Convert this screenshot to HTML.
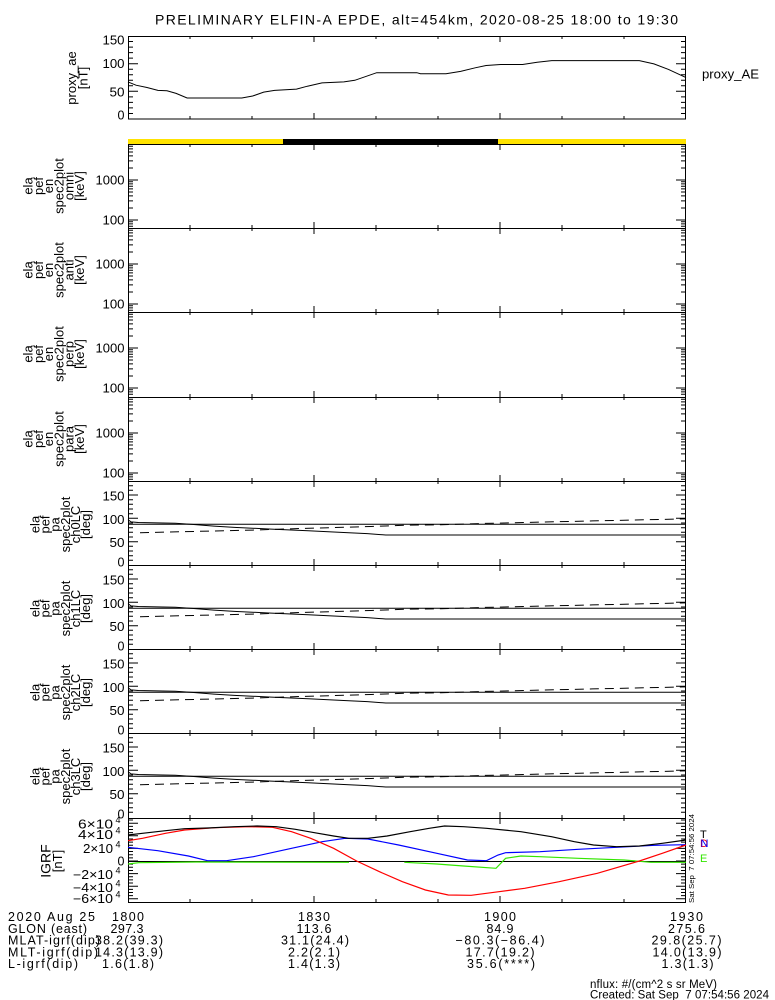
<!DOCTYPE html>
<html><head><meta charset="utf-8"><style>
html,body{margin:0;padding:0;background:#fff;}
svg{display:block;}
text{font-family:"Liberation Sans",sans-serif;fill:#000;}
</style></head><body>
<svg width="775" height="1000" viewBox="0 0 775 1000" xmlns="http://www.w3.org/2000/svg">
<defs>
<path id="xt" d="M190 0v3M252 0v3M314 0v6M376 0v3M438 0v3M500 0v6M562 0v3M624 0v3" stroke="#000" stroke-width="1" fill="none"/>
<path id="xb" d="M190 0v-3M252 0v-3M314 0v-6M376 0v-3M438 0v-3M500 0v-6M562 0v-3M624 0v-3" stroke="#000" stroke-width="1" fill="none"/>
<path id="ys" stroke="#000" stroke-width="1" fill="none" d="M128 82.2h5M128 79.9h5M128 77.8h5M128 76h10M128 64h5M128 56.9h5M128 51.9h5M128 48h5M128 44.9h5M128 42.2h5M128 39.9h5M128 37.8h5M128 36h10M128 24h5M128 16.9h5M128 11.9h5M128 8h5M128 4.9h5M128 2.2h5
M686 82.2h-5M686 79.9h-5M686 77.8h-5M686 76h-10M686 64h-5M686 56.9h-5M686 51.9h-5M686 48h-5M686 44.9h-5M686 42.2h-5M686 39.9h-5M686 37.8h-5M686 36h-10M686 24h-5M686 16.9h-5M686 11.9h-5M686 8h-5M686 4.9h-5M686 2.2h-5"/>
<path id="ya" stroke="#000" stroke-width="1" fill="none" d="M128 79.3h5M128 74.7h5M128 70h5M128 65.3h5M128 60.7h10M128 56h5M128 51.3h5M128 46.7h5M128 42h5M128 37.3h10M128 32.7h5M128 28h5M128 23.3h5M128 18.7h5M128 14h10M128 9.3h5M128 4.7h5
M686 79.3h-5M686 74.7h-5M686 70h-5M686 65.3h-5M686 60.7h-10M686 56h-5M686 51.3h-5M686 46.7h-5M686 42h-5M686 37.3h-10M686 32.7h-5M686 28h-5M686 23.3h-5M686 18.7h-5M686 14h-10M686 9.3h-5M686 4.7h-5"/>
<g id="ang">
<path d="M128 43.2H686" stroke="#000" stroke-width="1" fill="none"/>
<polyline points="128,38.6 131,40.9 138.3,41.5 175.3,42.2 193.7,43.5 214,45.1 234.4,46.4 271.3,48.1 308.2,49.7 348.8,51.7 367.3,52.6 385.8,54 686,54" stroke="#000" stroke-width="1" fill="none"/>
<polyline points="140,51.7 182.7,50.7 252.8,49.1 293.4,47.7 371,45.5 407.9,44.1 441.1,43.8 481.8,42.5 592.5,39.9 686,37.9" stroke="#000" stroke-width="1" fill="none" stroke-dasharray="9,6"/>
</g>
</defs>

<!-- Title -->
<text x="155" y="24.5" font-size="14" textLength="523" lengthAdjust="spacing">PRELIMINARY ELFIN-A EPDE, alt=454km, 2020-08-25 18:00 to 19:30</text>

<!-- proxy_ae panel -->
<rect x="128.5" y="36.5" width="557" height="82.5" fill="none" stroke="#000" stroke-width="1" shape-rendering="crispEdges"/>
<path stroke="#000" stroke-width="1" fill="none" d="M128 113.5h5M128 107.9h5M128 102.4h5M128 96.9h5M128 91.3h10M128 85.8h5M128 80.3h5M128 74.7h5M128 69.2h5M128 63.7h10M128 58.1h5M128 52.6h5M128 47.1h5M128 41.5h5
M686 113.5h-5M686 107.9h-5M686 102.4h-5M686 96.9h-5M686 91.3h-10M686 85.8h-5M686 80.3h-5M686 74.7h-5M686 69.2h-5M686 63.7h-10M686 58.1h-5M686 52.6h-5M686 47.1h-5M686 41.5h-5"/>
<use href="#xt" y="36"/><use href="#xb" y="119"/>
<polyline points="128,81.9 136,85.2 147,87.5 157.9,90.4 167,90.8 176.1,93.4 187.1,98 241.8,98 252.7,96 263.7,92.1 274.6,90.4 296.5,89.1 307.4,86.2 322,82.9 343.9,81.9 354.8,80.3 376.7,72.7 416.8,72.7 420.5,73.7 446,73.7 460.6,71.4 475.2,67.8 486.1,65.5 500.7,64.5 522.6,64.5 537.2,62.2 551.8,60.6 639.3,60.6 653.9,63.9 668.5,69.4 686,77.6" stroke="#000" stroke-width="1" fill="none"/>
<g font-size="12.5" text-anchor="end">
<text x="124.5" y="44.5" textLength="22" lengthAdjust="spacingAndGlyphs">150</text>
<text x="124.5" y="68" textLength="22" lengthAdjust="spacingAndGlyphs">100</text>
<text x="124.5" y="96.5" textLength="15" lengthAdjust="spacingAndGlyphs">50</text>
<text x="124.5" y="119.5">0</text>
</g>
<text font-size="13" text-anchor="middle" transform="translate(76,78) rotate(-90)">proxy_ae</text>
<text font-size="13" text-anchor="middle" transform="translate(87.5,78) rotate(-90)">[nT]</text>
<text x="702" y="78.5" font-size="13" textLength="57" lengthAdjust="spacingAndGlyphs">proxy_AE</text>

<!-- day/night bar -->
<rect x="128" y="139" width="155" height="5.5" fill="#ffe300"/>
<rect x="283" y="139" width="215" height="5.5" fill="#000"/>
<rect x="498" y="139" width="188" height="5.5" fill="#ffe300"/>

<!-- panel frames -->
<g fill="none" stroke="#000" stroke-width="1" shape-rendering="crispEdges">
<path d="M128.5 144V902M685.5 144V902"/>
<path d="M128 144.5H686M128 228.5H686M128 312.5H686M128 397.5H686M128 481.5H686M128 565.5H686M128 649.5H686M128 733.5H686M128 818.5H686M128 902.5H686"/>
</g>

<!-- x ticks -->
<use href="#xt" y="144"/><use href="#xb" y="228"/><use href="#xt" y="228"/><use href="#xb" y="312"/>
<use href="#xt" y="312"/><use href="#xb" y="397"/><use href="#xt" y="397"/><use href="#xb" y="481"/>
<use href="#xt" y="481"/><use href="#xb" y="565"/><use href="#xt" y="565"/><use href="#xb" y="649"/>
<use href="#xt" y="649"/><use href="#xb" y="733"/><use href="#xt" y="733"/><use href="#xb" y="818"/>
<use href="#xt" y="818"/><use href="#xb" y="902"/>

<!-- spec panels -->
<use href="#ys" y="144"/><use href="#ys" y="228"/><use href="#ys" y="312"/><use href="#ys" y="397"/>
<g font-size="12.5" text-anchor="end">
<text x="124.5" y="184.5" textLength="29" lengthAdjust="spacingAndGlyphs">1000</text>
<text x="124.5" y="224.5" textLength="22" lengthAdjust="spacingAndGlyphs">100</text>
<text x="124.5" y="268.5" textLength="29" lengthAdjust="spacingAndGlyphs">1000</text>
<text x="124.5" y="308.5" textLength="22" lengthAdjust="spacingAndGlyphs">100</text>
<text x="124.5" y="352.5" textLength="29" lengthAdjust="spacingAndGlyphs">1000</text>
<text x="124.5" y="392.5" textLength="22" lengthAdjust="spacingAndGlyphs">100</text>
<text x="124.5" y="437.5" textLength="29" lengthAdjust="spacingAndGlyphs">1000</text>
<text x="124.5" y="477.5" textLength="22" lengthAdjust="spacingAndGlyphs">100</text>
</g>
<g font-size="13" text-anchor="middle">
<g transform="translate(0,186)">
<text transform="translate(32.5,0) rotate(-90)">ela</text>
<text transform="translate(42.8,0) rotate(-90)">pef</text>
<text transform="translate(53.1,0) rotate(-90)">en</text>
<text transform="translate(63.4,0) rotate(-90)">spec2plot</text>
<text transform="translate(73.7,0) rotate(-90)">omni</text>
<text transform="translate(84,0) rotate(-90)">[keV]</text>
</g>
<g transform="translate(0,270)">
<text transform="translate(32.5,0) rotate(-90)">ela</text>
<text transform="translate(42.8,0) rotate(-90)">pef</text>
<text transform="translate(53.1,0) rotate(-90)">en</text>
<text transform="translate(63.4,0) rotate(-90)">spec2plot</text>
<text transform="translate(73.7,0) rotate(-90)">anti</text>
<text transform="translate(84,0) rotate(-90)">[keV]</text>
</g>
<g transform="translate(0,354)">
<text transform="translate(32.5,0) rotate(-90)">ela</text>
<text transform="translate(42.8,0) rotate(-90)">pef</text>
<text transform="translate(53.1,0) rotate(-90)">en</text>
<text transform="translate(63.4,0) rotate(-90)">spec2plot</text>
<text transform="translate(73.7,0) rotate(-90)">perp</text>
<text transform="translate(84,0) rotate(-90)">[keV]</text>
</g>
<g transform="translate(0,439)">
<text transform="translate(32.5,0) rotate(-90)">ela</text>
<text transform="translate(42.8,0) rotate(-90)">pef</text>
<text transform="translate(53.1,0) rotate(-90)">en</text>
<text transform="translate(63.4,0) rotate(-90)">spec2plot</text>
<text transform="translate(73.7,0) rotate(-90)">para</text>
<text transform="translate(84,0) rotate(-90)">[keV]</text>
</g>
</g>

<!-- angle panels -->
<use href="#ya" y="481"/><use href="#ya" y="565"/><use href="#ya" y="649"/><use href="#ya" y="733"/>
<use href="#ang" y="481"/><use href="#ang" y="565"/><use href="#ang" y="649"/><use href="#ang" y="733"/>
<g font-size="12.5" text-anchor="end">
<text x="124.5" y="500.5" textLength="22" lengthAdjust="spacingAndGlyphs">150</text>
<text x="124.5" y="524" textLength="22" lengthAdjust="spacingAndGlyphs">100</text>
<text x="124.5" y="547" textLength="15" lengthAdjust="spacingAndGlyphs">50</text>
<text x="124.5" y="566.5">0</text>
<text x="124.5" y="584.5" textLength="22" lengthAdjust="spacingAndGlyphs">150</text>
<text x="124.5" y="608" textLength="22" lengthAdjust="spacingAndGlyphs">100</text>
<text x="124.5" y="631" textLength="15" lengthAdjust="spacingAndGlyphs">50</text>
<text x="124.5" y="650.5">0</text>
<text x="124.5" y="668.5" textLength="22" lengthAdjust="spacingAndGlyphs">150</text>
<text x="124.5" y="692" textLength="22" lengthAdjust="spacingAndGlyphs">100</text>
<text x="124.5" y="715" textLength="15" lengthAdjust="spacingAndGlyphs">50</text>
<text x="124.5" y="734.5">0</text>
<text x="124.5" y="752.5" textLength="22" lengthAdjust="spacingAndGlyphs">150</text>
<text x="124.5" y="776" textLength="22" lengthAdjust="spacingAndGlyphs">100</text>
<text x="124.5" y="799" textLength="15" lengthAdjust="spacingAndGlyphs">50</text>
<text x="124.5" y="818.5">0</text>
</g>
<g font-size="13" text-anchor="middle">
<g transform="translate(0,524.5)">
<text transform="translate(39.5,0) rotate(-90)">ela</text>
<text transform="translate(49.6,0) rotate(-90)">pef</text>
<text transform="translate(59.7,0) rotate(-90)">pa</text>
<text transform="translate(69.8,0) rotate(-90)">spec2plot</text>
<text transform="translate(79.9,0) rotate(-90)">ch0LC</text>
<text transform="translate(90,0) rotate(-90)">[deg]</text>
</g>
<g transform="translate(0,608.5)">
<text transform="translate(39.5,0) rotate(-90)">ela</text>
<text transform="translate(49.6,0) rotate(-90)">pef</text>
<text transform="translate(59.7,0) rotate(-90)">pa</text>
<text transform="translate(69.8,0) rotate(-90)">spec2plot</text>
<text transform="translate(79.9,0) rotate(-90)">ch1LC</text>
<text transform="translate(90,0) rotate(-90)">[deg]</text>
</g>
<g transform="translate(0,692.5)">
<text transform="translate(39.5,0) rotate(-90)">ela</text>
<text transform="translate(49.6,0) rotate(-90)">pef</text>
<text transform="translate(59.7,0) rotate(-90)">pa</text>
<text transform="translate(69.8,0) rotate(-90)">spec2plot</text>
<text transform="translate(79.9,0) rotate(-90)">ch2LC</text>
<text transform="translate(90,0) rotate(-90)">[deg]</text>
</g>
<g transform="translate(0,776.5)">
<text transform="translate(39.5,0) rotate(-90)">ela</text>
<text transform="translate(49.6,0) rotate(-90)">pef</text>
<text transform="translate(59.7,0) rotate(-90)">pa</text>
<text transform="translate(69.8,0) rotate(-90)">spec2plot</text>
<text transform="translate(79.9,0) rotate(-90)">ch3LC</text>
<text transform="translate(90,0) rotate(-90)">[deg]</text>
</g>
</g>

<!-- IGRF panel -->
<path stroke="#000" stroke-width="1" fill="none" d="M128 857.85h5M128 854.7h5M128 851.55h5M128 848.4h10M128 845.25h5M128 842.1h5M128 838.95h5M128 835.8h10M128 832.65h5M128 829.5h5M128 826.35h5M128 823.2h10M128 820.05h5M128 861h10M128 864.15h5M128 867.3h5M128 870.45h5M128 873.6h10M128 876.75h5M128 879.9h5M128 883.05h5M128 886.2h10M128 889.35h5M128 892.5h5M128 895.65h5M128 898.8h10
M686 857.85h-5M686 854.7h-5M686 851.55h-5M686 848.4h-10M686 845.25h-5M686 842.1h-5M686 838.95h-5M686 835.8h-10M686 832.65h-5M686 829.5h-5M686 826.35h-5M686 823.2h-10M686 820.05h-5M686 861h-10M686 864.15h-5M686 867.3h-5M686 870.45h-5M686 873.6h-10M686 876.75h-5M686 879.9h-5M686 883.05h-5M686 886.2h-10M686 889.35h-5M686 892.5h-5M686 895.65h-5M686 898.8h-10"/>
<path d="M128 861.5H686" stroke="#000" stroke-width="1" shape-rendering="crispEdges"/>
<polyline points="128,864 138.7,862.7 196,862 349,862.3" stroke="#33e600" stroke-width="1.2" fill="none"/>
<polyline points="404.3,862.3 436.8,864 463.6,866 496,868.3 505.6,858.3 520.9,856 540,856.7 578.2,858.3 624.1,860 650.9,862.3 686,862.3" stroke="#33e600" stroke-width="1.2" fill="none"/>
<polyline points="128,847.3 157.8,850.7 188.4,856 207.5,860.7 226.6,860.7 253.4,856.7 291.6,848.3 322.2,841.7 345.1,838.3 368,839 398.6,845 436.8,853.3 467.4,860 486.5,860.7 498,855 505.6,852.7 540,851.7 578.2,849.3 616.5,847.3 654.7,845.3 686,844.7" stroke="#0000ff" stroke-width="1.2" fill="none"/>
<polyline points="128,840.7 142.5,838.3 165.5,833.3 184.6,830 215.1,827.7 249.5,826.7 272.5,827.3 291.6,831.7 310.7,838.3 333.6,848.3 356.6,861 379.5,871.7 402.4,881.7 425.4,890 448.3,895 471.2,895.3 494.1,892.3 524.7,888.3 559.1,881.7 597.3,873.3 639.4,861 662.3,853.3 686,845" stroke="#ff0000" stroke-width="1.2" fill="none"/>
<polyline points="128,835 142.5,833.3 165.5,830.7 184.6,828.7 207.5,828 234.3,826.7 257.2,826 276.3,826.7 295.4,829.3 314.5,832.7 333.6,836 348.9,838.3 368,838.3 387.1,836 410.1,831.7 429.2,828.3 444.5,826 463.6,826.7 486.5,828.3 520.9,831.7 551.5,836.7 574.4,841.7 593.5,845 616.5,846.7 639.4,846 662.3,843.3 686,840" stroke="#000" stroke-width="1.2" fill="none"/>
<g font-size="12.5">
<text x="78" y="828.5" textLength="35" lengthAdjust="spacingAndGlyphs">6×10</text><text x="115.5" y="823" font-size="9">4</text>
<text x="78" y="839" textLength="35" lengthAdjust="spacingAndGlyphs">4×10</text><text x="115.5" y="833.5" font-size="9">4</text>
<text x="83" y="853" textLength="30" lengthAdjust="spacingAndGlyphs">2×10</text><text x="115.5" y="847.5" font-size="9">4</text>
<text x="124.5" y="865.5" text-anchor="end">0</text>
<text x="73" y="879" textLength="40" lengthAdjust="spacingAndGlyphs">−2×10</text><text x="115.5" y="873.5" font-size="9">4</text>
<text x="73" y="892" textLength="40" lengthAdjust="spacingAndGlyphs">−4×10</text><text x="115.5" y="886.5" font-size="9">4</text>
<text x="73" y="903" textLength="40" lengthAdjust="spacingAndGlyphs">−6×10</text><text x="115.5" y="897.5" font-size="9">4</text>
</g>
<text font-size="14" text-anchor="middle" transform="translate(50.5,861) rotate(-90)">IGRF</text>
<text font-size="13" text-anchor="middle" transform="translate(62,861) rotate(-90)">[nT]</text>
<text font-size="11" x="700" y="838">T</text>
<text font-size="11" x="700" y="847" fill="#ff0000" style="fill:#ff0000">D</text>
<text font-size="11" x="700.5" y="847" style="fill:#0000ff">N</text>
<text font-size="11" x="700" y="862" style="fill:#33e600">E</text>
<text font-size="7" text-anchor="middle" transform="translate(694,858.5) rotate(-90)" textLength="89" lengthAdjust="spacingAndGlyphs" xml:space="preserve">Sat Sep  7 07:54:56 2024</text>

<!-- bottom annotation -->
<g font-size="12.5">
<text x="8" y="921" textLength="87" lengthAdjust="spacing">2020 Aug 25</text>
<text x="8" y="933" textLength="79" lengthAdjust="spacing">GLON (east)</text>
<text x="8" y="944.5" textLength="92" lengthAdjust="spacing">MLAT-igrf(dip)</text>
<text x="8" y="956.5" textLength="90" lengthAdjust="spacing">MLT-igrf(dip)</text>
<text x="8" y="968" textLength="70" lengthAdjust="spacing">L-igrf(dip)</text>
</g>
<g font-size="12.5" text-anchor="middle">
<text x="128" y="921" textLength="32" lengthAdjust="spacing">1800</text>
<text x="127" y="933" textLength="33" lengthAdjust="spacing">297.3</text>
<text x="129" y="944.5" textLength="68" lengthAdjust="spacing">38.2(39.3)</text>
<text x="129" y="956.5" textLength="68" lengthAdjust="spacing">14.3(13.9)</text>
<text x="128" y="968" textLength="52" lengthAdjust="spacing">1.6(1.8)</text>

<text x="314" y="921" textLength="32" lengthAdjust="spacing">1830</text>
<text x="314" y="933" textLength="35" lengthAdjust="spacing">113.6</text>
<text x="315" y="944.5" textLength="68" lengthAdjust="spacing">31.1(24.4)</text>
<text x="314" y="956.5" textLength="52" lengthAdjust="spacing">2.2(2.1)</text>
<text x="314" y="968" textLength="52" lengthAdjust="spacing">1.4(1.3)</text>

<text x="500" y="921" textLength="32" lengthAdjust="spacing">1900</text>
<text x="500" y="933" textLength="27" lengthAdjust="spacing">84.9</text>
<text x="500" y="944.5" textLength="89" lengthAdjust="spacing">−80.3(−86.4)</text>
<text x="500" y="956.5" textLength="69" lengthAdjust="spacing">17.7(19.2)</text>
<text x="501" y="968" textLength="68" lengthAdjust="spacing">35.6(****)</text>

<text x="686.5" y="921" textLength="33" lengthAdjust="spacing">1930</text>
<text x="686.5" y="933" textLength="37" lengthAdjust="spacing">275.6</text>
<text x="686.5" y="944.5" textLength="70" lengthAdjust="spacing">29.8(25.7)</text>
<text x="687" y="956.5" textLength="69" lengthAdjust="spacing">14.0(13.9)</text>
<text x="687.5" y="968" textLength="52" lengthAdjust="spacing">1.3(1.3)</text>
</g>
<text x="590" y="988" font-size="11.5" textLength="127" lengthAdjust="spacing">nflux: #/(cm^2 s sr MeV)</text>
<text x="590" y="998.3" font-size="11.5" textLength="179" lengthAdjust="spacing" xml:space="preserve">Created: Sat Sep  7 07:54:56 2024</text>
</svg>
</body></html>
